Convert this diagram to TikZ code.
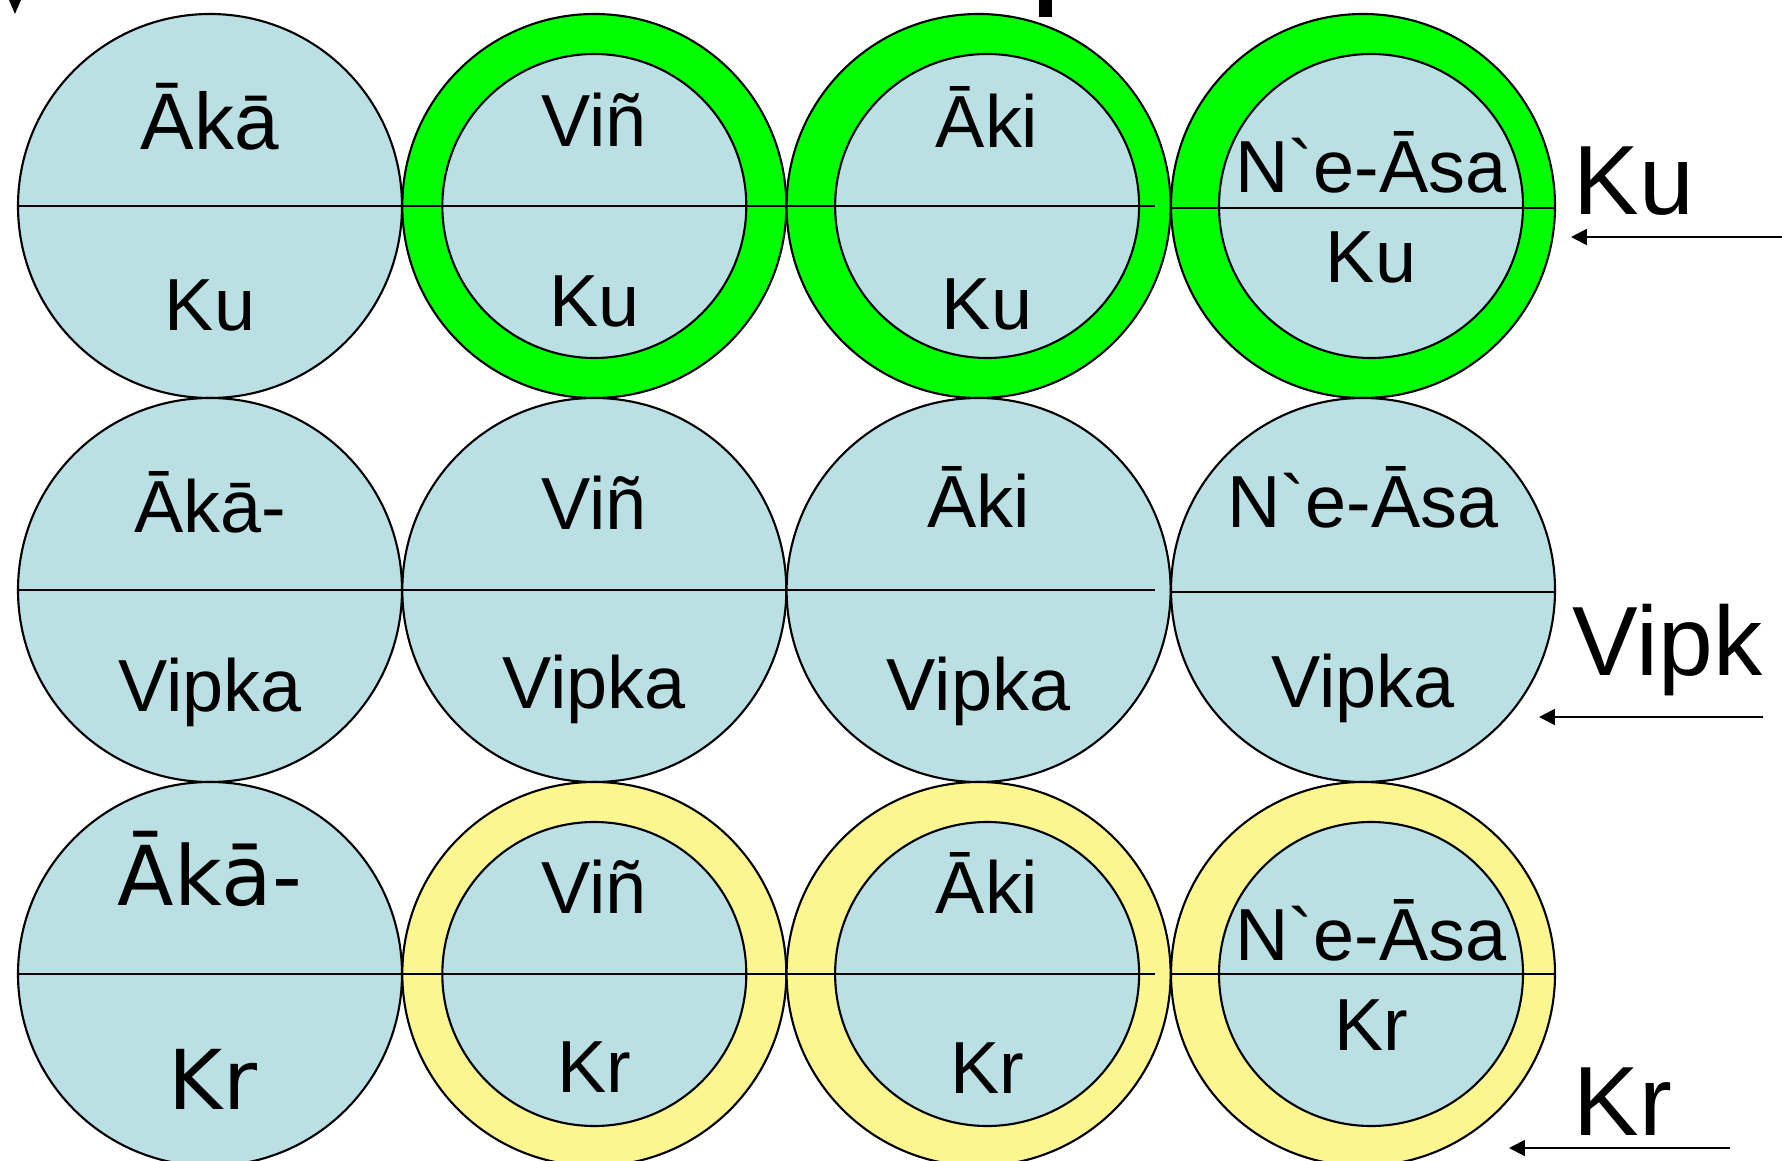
\documentclass[tikz,border=0pt]{standalone}
\usepackage{fontspec}
\newfontfamily\arialfont{Liberation Sans}
\newfontfamily\dejavufont{DejaVu Sans}
\usetikzlibrary{arrows.meta}
\definecolor{cellblue}{RGB}{186,224,228}
\definecolor{ringgreen}{RGB}{0,255,0}
\definecolor{ringyellow}{RGB}{252,246,145}

\begin{document}
\begin{tikzpicture}[
cell/.style={
	circle, draw, line width=0.6pt,
	fill=cellblue, inner sep=0pt,
	minimum size=3.84cm
},
hole/.style={cell, minimum size=3.04cm},
word/.style={anchor=base, inner sep=0pt, font=\arialfont\fontsize{21}{25}\selectfont},
big/.style={word, font=\arialfont\fontsize{22.8}{27}\selectfont},
wide/.style={word, font=\dejavufont\fontsize{23.5}{28}\selectfont},
side/.style={anchor=base west, inner sep=0pt, font=\arialfont\fontsize{28}{33}\selectfont},
pointer/.style={-{Triangle[length=4.5pt,width=4.5pt]}, line width=0.6pt},
split/.style={line width=0.8pt}
]
\useasboundingbox (0,0) rectangle (17.82,11.60);
% cells, one row at a time
\foreach \r/\y/\ring in {1/9.54/ringgreen,2/5.70/cellblue,3/1.86/ringyellow}
{
	\node[cell] (c\r1) at (2.10,\y) {};
	\foreach \c/\x in {2/5.943,3/9.786,4/13.63}
		\node[cell,fill=\ring] (c\r\c) at (\x,\y) {};
}
\foreach \r in {1,3}
{
	\node[hole] (h\r2) at (c\r2.center) {};
	\node[hole] (h\r3) at ([xshift=0.85mm]c\r3.center) {};
	\node[hole] (h\r4) at ([xshift=0.8mm]c\r4.center) {};
}
% dividers
\foreach \r in {1,2,3}
{
	\draw[split] (c\r1.west) -- (c\r1.east) (c\r2.west) -- (c\r2.east);
	\draw[split] (c\r3.west) -- ([xshift=-1.7mm]c\r3.east);
}
\draw[split] ([yshift=-0.2mm]c14.west) -- ([yshift=-0.2mm]c14.east);
\draw[split] ([yshift=-0.2mm]c24.west) -- ([yshift=-0.2mm]c24.east);
\draw[split] (c34.west) -- (c34.east);
\draw[split] ([xshift=-1.8mm]c23.west) -- (c23.west);
% row 1
\node[big] (c11-a) at ([yshift=5.6mm]c11.center) {Ākā};
\node[word] (c11-b) at ([yshift=-12.5mm]c11.center) {Ku};
\foreach \n/\top/\up/\dn in {h12/Viñ/5.9/12.1,h13/Āki/5.8/12.4,h14/N`e-Āsa/1.3/7.7}
{
	\node[word] (\n-a) at ([yshift=\up mm]\n.center) {\top};
	\node[word] (\n-b) at ([yshift=-\dn mm]\n.center) {Ku};
}
% row 2
\foreach \n/\top/\up/\dn in {c21/Ākā-/5.8/12.1,c22/Viñ/6.1/11.8,c23/Āki/6.2/12.0,c24/N`e-Āsa/6.2/11.7}
{
	\node[word] (\n-a) at ([yshift=\up mm]\n.center) {\top};
	\node[word] (\n-b) at ([yshift=-\dn mm]\n.center) {Vipka};
}
% row 3
\node[wide] (c31-a) at ([yshift=6.9mm]c31.center) {Ākā-};
\node[wide] (c31-b) at ([xshift=0.3mm,yshift=-13.5mm]c31.center) {Kr};
\foreach \n/\top/\up/\dn in {h32/Viñ/6.1/11.8,h33/Āki/6.1/11.9,h34/N`e-Āsa/1.4/7.6}
{
	\node[word] (\n-a) at ([yshift=\up mm]\n.center) {\top};
	\node[word] (\n-b) at ([yshift=-\dn mm]\n.center) {Kr};
}
% labels on the right
\node[side] (ku) at (15.73,9.45) {Ku};
\node[side] (vipk) at (15.72,4.85) {Vipk};
\node[side] (kr) at (15.73,0.25) {Kr};
\coordinate (ku-from) at (17.82,9.23);
\coordinate (ku-to) at (15.71,9.23);
\coordinate (vipk-from) at (17.63,4.43);
\coordinate (vipk-to) at (15.39,4.43);
\coordinate (kr-from) at (17.30,0.12);
\coordinate (kr-to) at (15.09,0.12);
\draw[pointer] (ku-from) -- (ku-to);
\draw[pointer] (vipk-from) -- (vipk-to);
\draw[pointer] (kr-from) -- (kr-to);
% clipped bits of the title above
\fill (10.39,11.60) rectangle (10.52,11.43);
\fill (0.09,11.60) -- (0.21,11.60) -- (0.15,11.46) -- cycle;
\end{tikzpicture}
\end{document}
